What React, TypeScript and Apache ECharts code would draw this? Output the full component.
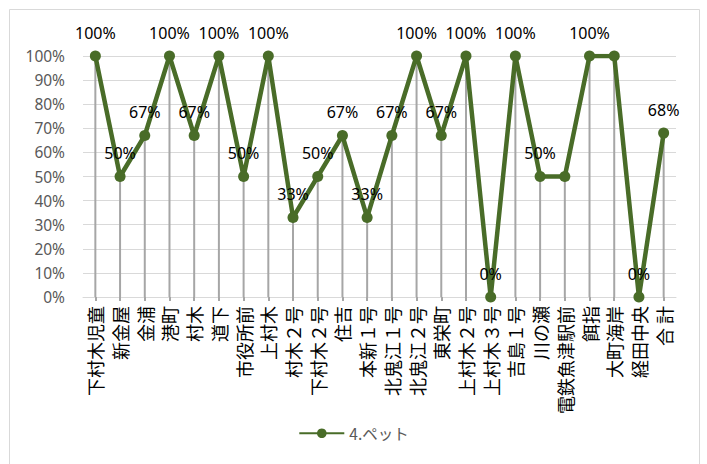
import React, { useEffect, useRef } from "react";
import * as echarts from "echarts";

const categories = [
  "下村木児童", "新金屋", "金浦", "港町", "村木", "道下", "市役所前", "上村木",
  "村木２号", "下村木２号", "住吉", "本新１号", "北鬼江１号", "北鬼江２号", "東栄町",
  "上村木２号", "上村木３号", "吉島１号", "川の瀬", "電鉄魚津駅前", "餌指", "大町海岸",
  "経田中央", "合 計",
];
const seriesName = "4.ペット";
const values = [100, 50, 67, 100, 67, 100, 50, 100, 33, 50, 67, 33, 67, 100, 67, 100, 0, 100, 50, 50, 100, 100, 0, 68];
// labels hidden where they would overlap the previous one
const showLabel = [true, true, true, true, true, true, true, true, true, true, true, true, true, true, true, true, true, true, true, false, true, false, true, true];
const yTicks = [0, 10, 20, 30, 40, 50, 60, 70, 80, 90, 100];

export default function App() {
  const ref = useRef<HTMLDivElement>(null);
  useEffect(() => {
    if (!ref.current) return;
    const chart = echarts.init(ref.current, undefined, { renderer: "svg" });
    const green = "#496c28";
    chart.setOption({
      animation: false,
      backgroundColor: "#ffffff",
      graphic: [
        {
          type: "rect",
          shape: { x: 9.5, y: 9.5, width: 690, height: 470 },
          style: { fill: "none", stroke: "#d9d9d9", lineWidth: 1 },
          silent: true,
        },
      ],
      grid: { left: 83, right: 31, top: 56, bottom: 167 },
      legend: {
        data: [seriesName],
        bottom: 18,
        left: "center",
        itemWidth: 45,
        itemHeight: 12,
        textStyle: { color: "#595959", fontSize: 15.5, fontFamily: "Noto Sans CJK JP" },
      },
      xAxis: {
        type: "category",
        data: categories,
        boundaryGap: true,
        axisLine: { lineStyle: { color: "#d9d9d9", width: 1 } },
        axisTick: { show: true, alignWithLabel: true, length: 4, lineStyle: { color: "#a6a6a6", width: 2 } },
        axisLabel: {
          interval: 0,
          rotate: 90,
          margin: 9,
          color: "#000000",
          fontSize: 18,
          fontFamily: "Noto Sans CJK JP",
        },
      },
      yAxis: {
        type: "value",
        min: 0,
        max: 100,
        interval: 10,
        axisLine: { show: false },
        axisTick: { show: false },
        splitLine: { lineStyle: { color: "#d9d9d9", width: 1 } },
        axisLabel: {
          margin: 18,
          color: "#595959",
          fontSize: 15.5,
          fontFamily: "Noto Sans",
          formatter: (v: number) => (yTicks.includes(v) ? v + "%" : ""),
        },
      },
      series: [
        {
          name: "drop",
          type: "bar",
          data: values,
          barWidth: 2,
          barGap: "-100%",
          itemStyle: { color: "#a6a6a6" },
          silent: true,
          z: 1,
        },
        {
          name: seriesName,
          type: "line",
          data: values.map((v, i) => ({ value: v, label: { show: showLabel[i] } })),
          symbol: "circle",
          symbolSize: 11,
          lineStyle: { color: green, width: 4.5 },
          itemStyle: { color: green },
          z: 3,
          label: {
            show: true,
            position: "top",
            distance: 10,
            color: "#000000",
            fontSize: 16,
            fontFamily: "Noto Sans",
            formatter: (p: any) => p.value + "%",
          },
        },
      ],
    });
    return () => chart.dispose();
  }, []);
  return <div ref={ref} style={{ width: 707, height: 464, position: "absolute", left: 0, top: 0 }} />;
}
